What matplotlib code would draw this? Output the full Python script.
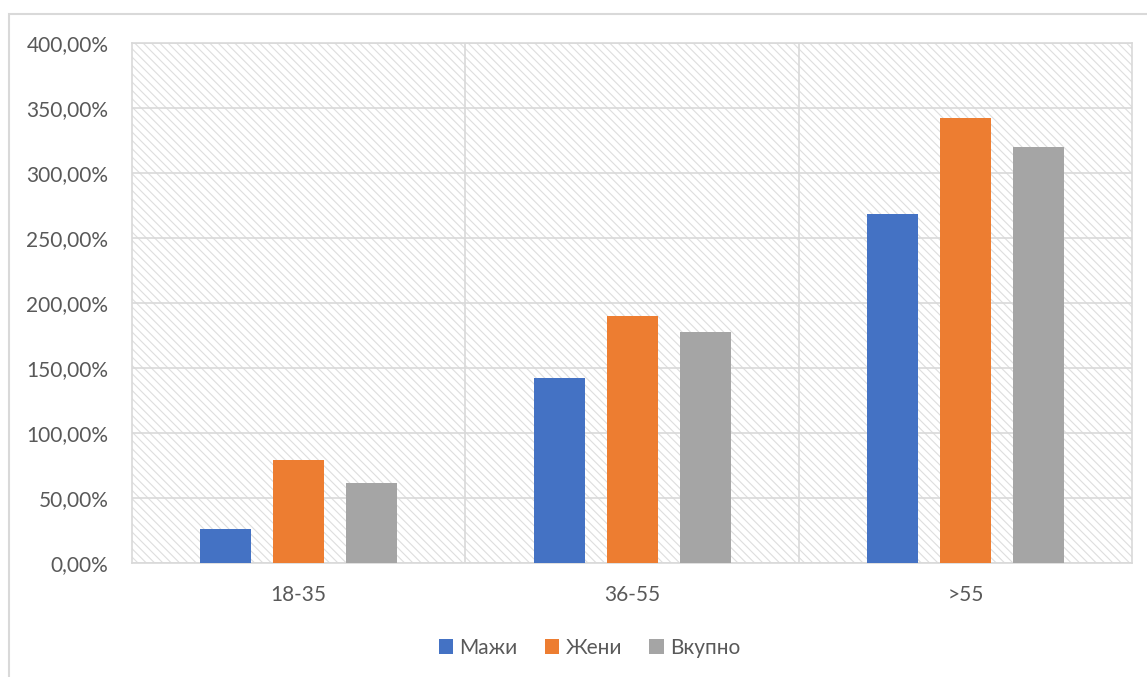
import matplotlib
matplotlib.use("Agg")
import matplotlib.pyplot as plt
from matplotlib.patches import Rectangle, Patch
from matplotlib.ticker import FuncFormatter, FixedLocator
import numpy as np

plt.rcParams['font.family'] = ['Lato', 'DejaVu Sans']
plt.rcParams['hatch.linewidth'] = 0.8

categories = ['18-35', '36-55', '>55']
series_names = ['Мажи', 'Жени', 'Вкупно']
men = [26.0, 142.3, 268.7]
women = [79.0, 190.0, 342.5]
total = [61.5, 178.0, 320.2]
colors = ['#4472C4', '#ED7D31', '#A5A5A5']
y_ticks = [0, 50, 100, 150, 200, 250, 300, 350, 400]

grid_col = '#d9d9d9'
text_col = '#595959'

fig = plt.figure(figsize=(11.47, 6.77), dpi=100)
fig.patch.set_facecolor('white')

# outer chart frame
fig.add_artist(Rectangle((9 / 1147, -0.1), 1.2, 1 - 14 / 677 + 0.1,
                         transform=fig.transFigure, facecolor='none',
                         edgecolor=grid_col, linewidth=1.5, zorder=0))

ax = fig.add_axes([132 / 1147, 1 - 563 / 677, 1000 / 1147, 520 / 677])
ax.set_facecolor('white')

# hatched plot-area background
ax.add_patch(Rectangle((0, 0), 1, 1, transform=ax.transAxes, facecolor='none',
                       edgecolor='#dedede', linewidth=0, hatch='\\\\\\\\',
                       zorder=0))

x = np.arange(len(categories))
width = 0.153
offset = 0.219
for i, (vals, name, col) in enumerate(zip([men, women, total], series_names, colors)):
    ax.bar(x + (i - 1) * offset, vals, width=width, color=col, label=name, zorder=3)

ax.set_xlim(-0.5, len(categories) - 0.5)
ax.set_ylim(0, 400)
ax.set_yticks(y_ticks)
ax.yaxis.set_major_formatter(FuncFormatter(lambda v, p: f"{v:.2f}%".replace('.', ',')))
ax.set_xticks(x)
ax.set_xticklabels(categories)
ax.xaxis.set_minor_locator(FixedLocator(x[:-1] + 0.5))

ax.grid(axis='y', which='major', color=grid_col, linewidth=1.2, zorder=1)
ax.grid(axis='x', which='minor', color=grid_col, linewidth=1.2, zorder=1)
ax.set_axisbelow(True)

for s in ax.spines.values():
    s.set_color(grid_col)
    s.set_linewidth(1.2)

ax.tick_params(axis='both', which='both', length=0, colors=text_col, labelsize=15)
ax.tick_params(axis='y', pad=17)
ax.tick_params(axis='x', pad=16)

handles = [Patch(facecolor=c, edgecolor='none', label=n) for c, n in zip(colors, series_names)]
leg = fig.legend(handles=handles, loc='center', bbox_to_anchor=(0.514, 1 - 648 / 677),
                 ncol=3, frameon=False, fontsize=15, handlelength=0.7, handleheight=0.7,
                 handletextpad=0.3, columnspacing=1.3, labelcolor=text_col)

fig.savefig('out.png', dpi=100, facecolor='white')
